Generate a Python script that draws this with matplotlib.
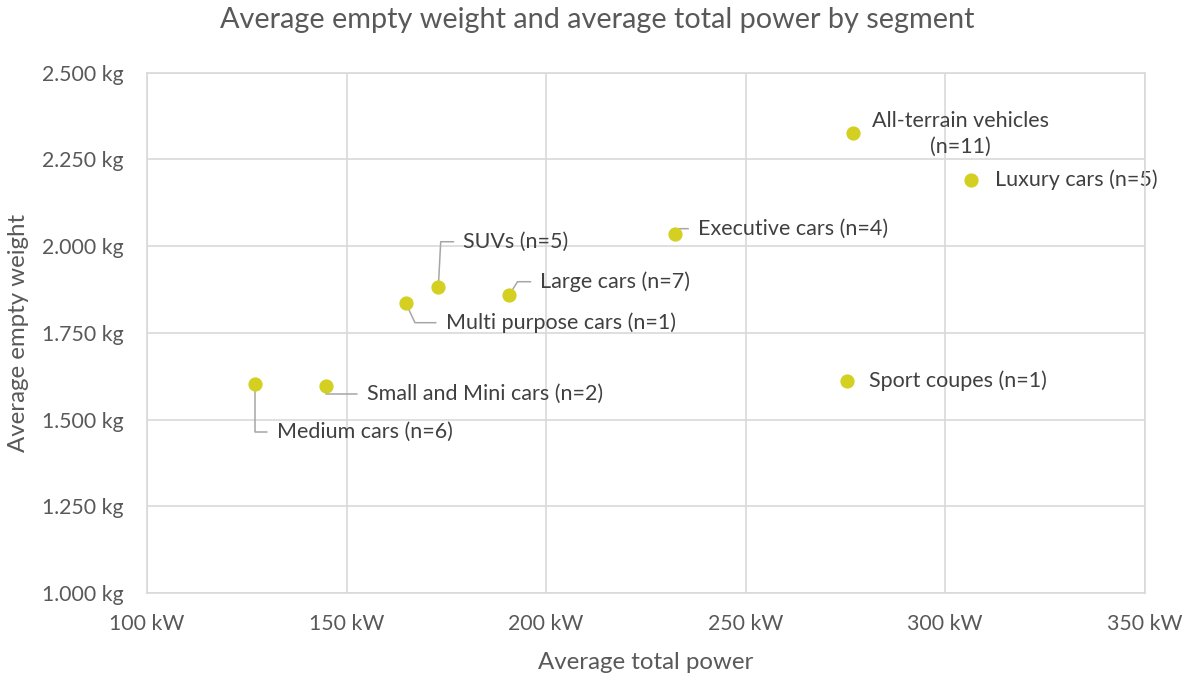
import matplotlib.pyplot as plt
from matplotlib.ticker import FuncFormatter, MultipleLocator

plt.rcParams["font.family"] = ["Lato", "DejaVu Sans"]

segments = ["Medium cars (n=6)", "Small and Mini cars (n=2)", "Multi purpose cars (n=1)",
            "SUVs (n=5)", "Large cars (n=7)", "Executive cars (n=4)",
            "All-terrain vehicles\n(n=11)", "Luxury cars (n=5)", "Sport coupes (n=1)"]
power_kw = [127.0, 144.8, 164.8, 173.0, 190.8, 232.3, 276.8, 306.5, 275.5]
weight_kg = [1603, 1597, 1837, 1883, 1860, 2036, 2327, 2191, 1611]

# label offsets in pixels, leader angle at the point (None = no leader)
offsets = [(22, -48), (41, -8), (40, -20), (25, 45), (31, 13), (23, 5), (108, -1), (24, 0), (22, 0)]
leader = [90, 90, 115, 87, 58, 51, None, None, None]

text_c = "#404040"
axis_c = "#595959"
grid_c = "#d9d9d9"

fig = plt.figure(figsize=(11.95, 6.8), dpi=100)
ax = fig.add_axes([0.123, 0.128, 0.835, 0.765])

ax.scatter(power_kw, weight_kg, s=105, color="#d4d022", zorder=3, linewidths=0)

for name, x, y, off, ang in zip(segments, power_kw, weight_kg, offsets, leader):
    ha = "center" if "\n" in name else "left"
    props = None
    if ang is not None:
        props = dict(arrowstyle="-", color="#a6a6a6", lw=1.1, relpos=(0, 0.5),
                     shrinkA=5, shrinkB=0,
                     connectionstyle=f"angle,angleA=0,angleB={ang},rad=0")
    ax.annotate(name, (x, y), xytext=off, textcoords="offset pixels",
                ha=ha, va="center", fontsize=15.5, color=text_c,
                multialignment="center", arrowprops=props, zorder=2,
                linespacing=1.4)

ax.set_xlim(100, 350)
ax.set_ylim(1000, 2500)
ax.xaxis.set_major_locator(MultipleLocator(50))
ax.yaxis.set_major_locator(MultipleLocator(250))
ax.xaxis.set_major_formatter(FuncFormatter(lambda v, p: f"{v:.0f} kW"))
ax.yaxis.set_major_formatter(FuncFormatter(lambda v, p: f"{v:,.0f} kg".replace(",", ".")))
ax.grid(True, color=grid_c, lw=1.2)
ax.set_axisbelow(True)
for sp in ax.spines.values():
    sp.set_color(grid_c)
    sp.set_linewidth(1.2)
ax.tick_params(length=0, labelsize=15.3, colors=axis_c)
ax.tick_params(axis="y", pad=17)
ax.tick_params(axis="x", pad=15)

ax.set_xlabel("Average total power", fontsize=17.3, color=axis_c, labelpad=13)
ax.set_ylabel("Average empty weight", fontsize=17.3, color=axis_c, labelpad=9)
fig.suptitle("Average empty weight and average total power by segment",
             fontsize=20.8, color=axis_c, y=0.99)

fig.savefig("out.png", dpi=100)
